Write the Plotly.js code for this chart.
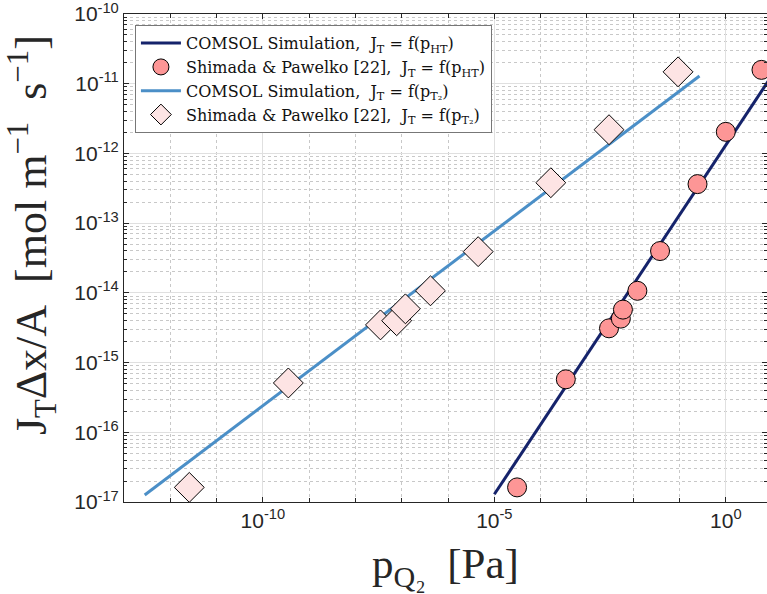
<!DOCTYPE html>
<html>
<head>
<meta charset="utf-8">
<script src="https://cdn.plot.ly/plotly-3.0.1.min.js"></script>
<style>html,body{margin:0;padding:0;background:#fff;}#chart{width:767px;height:594px;}</style>
</head>
<body>
<div id="chart"></div>
<script>
// COMSOL simulation, J_T = f(p_HT)
const simHT_p = [1e-5, 10];
const simHT_J = [1.29e-17, 1.32e-11];
// Shimada & Pawelko [22], J_T = f(p_HT)
const expHT_p = [3.1e-5, 3.5e-4, 3.0e-3, 5.4e-3, 6.0e-3, 1.23e-2, 3.8e-2, 0.245, 1.0, 5.9];
const expHT_J = [1.62e-17, 5.75e-16, 3.1e-15, 4.27e-15, 5.75e-15, 1.07e-14, 3.98e-14, 3.63e-13, 2.04e-12, 1.58e-11];
// COMSOL simulation, J_T = f(p_T2)
const simT2_p = [2.8e-13, 0.27];
const simT2_J = [1.26e-17, 1.29e-11];
// Shimada & Pawelko [22], J_T = f(p_T2)
const expT2_p = [2.57e-12, 3.55e-10, 3.47e-8, 7.76e-8, 1.2e-7, 4.17e-7, 4.47e-6, 1.66e-4, 3.0e-3, 9.3e-2];
const expT2_J = [1.62e-17, 5.1e-16, 3.47e-15, 3.98e-15, 5.9e-15, 1.07e-14, 3.9e-14, 3.8e-13, 2.19e-12, 1.48e-11];

// axis ticks
const xTickVals = [1e-10, 1e-5, 1];
const xTickText = ['10<sup>-10</sup>', '10<sup>-5</sup>', '10<sup>0</sup>'];
const xMinorVals = [1e-13, 1e-12, 1e-11, 1e-10, 1e-9, 1e-8, 1e-7, 1e-6, 1e-5, 1e-4, 1e-3, 1e-2, 1e-1, 1];
const yTickVals = [1e-17, 1e-16, 1e-15, 1e-14, 1e-13, 1e-12, 1e-11, 1e-10];
const yTickText = ['10<sup>-17</sup>', '10<sup>-16</sup>', '10<sup>-15</sup>', '10<sup>-14</sup>',
                   '10<sup>-13</sup>', '10<sup>-12</sup>', '10<sup>-11</sup>', '10<sup>-10</sup>'];

const S = '\u00a0';
const names = [
  'COMSOL Simulation,' + S + S + 'J<sub>T</sub>' + S + '=' + S + 'f(p<sub>HT</sub>)',
  'Shimada &amp; Pawelko [22],' + S + S + 'J<sub>T</sub>' + S + '=' + S + 'f(p<sub>HT</sub>)',
  'COMSOL Simulation,' + S + S + 'J<sub>T</sub>' + S + '=' + S + 'f(p<sub>T₂</sub>)',
  'Shimada &amp; Pawelko [22],' + S + S + 'J<sub>T</sub>' + S + '=' + S + 'f(p<sub>T₂</sub>)'
];

const traces = [
  {x: simHT_p, y: simHT_J, mode: 'lines', name: names[0], line: {color: '#15236b', width: 3}},
  {x: expHT_p, y: expHT_J, mode: 'markers', name: names[1],
   marker: {symbol: 'circle', size: 19, color: '#fd9696', line: {color: '#000', width: 1}}},
  {x: simT2_p, y: simT2_J, mode: 'lines', name: names[2], line: {color: '#4b8fc7', width: 3}},
  {x: expT2_p, y: expT2_J, mode: 'markers', name: names[3],
   marker: {symbol: 'diamond', size: 23, color: '#fde4e4', line: {color: '#000', width: 1}}}
];

const tickFont = {family: 'Liberation Sans, Arial, sans-serif', size: 21, color: '#262626'};
const serif = 'Liberation Serif, Times New Roman, serif';

const axisCommon = {
  type: 'log', showline: true, linecolor: '#262626', linewidth: 1, mirror: 'ticks',
  ticks: 'inside', ticklen: 5, tickcolor: '#262626', zeroline: false,
  showgrid: true, gridcolor: '#e0e0e0', gridwidth: 1,
  tickmode: 'array', ticklabeloverflow: 'allow'
};

const layout = {
  width: 767, height: 594,
  margin: {l: 124, r: 0, t: 14, b: 92},
  paper_bgcolor: '#fff', plot_bgcolor: '#fff',
  showlegend: true,
  legend: {x: 0.017, y: 0.977, xanchor: 'left', yanchor: 'top',
    bgcolor: '#fff', bordercolor: '#777', borderwidth: 1,
    font: {family: 'DejaVu Serif, serif', size: 16, color: '#111'},
    tracegroupgap: 0, itemwidth: 40},
  xaxis: Object.assign({}, axisCommon, {
    range: [-13, 0.89], tickvals: xTickVals, ticktext: xTickText,
    tickfont: tickFont,
    minor: {tickmode: 'array', tickvals: xMinorVals, ticks: 'inside', ticklen: 4, tickcolor: '#262626',
            showgrid: true, gridcolor: '#c8c8c8', griddash: 'dot', gridwidth: 1},
    title: {text: 'p<sub>Q₂</sub>' + S + S + '[Pa]', standoff: 18,
      font: {family: serif, size: 43, color: '#262626'}}
  }),
  yaxis: Object.assign({}, axisCommon, {
    range: [-17, -10], tickvals: yTickVals, ticktext: yTickText,
    tickfont: tickFont,
    minor: {dtick: 'D1', ticks: 'inside', ticklen: 3, tickcolor: '#262626', showgrid: true,
            gridcolor: '#c8c8c8', griddash: 'dot', gridwidth: 1}
  }),
  annotations: [{
    text: 'J<sub>T</sub>Δx/A' + S + S + '[mol' + S + 'm<sup>−1</sup>' + S + S + 's<sup>−1</sup>]',
    xref: 'paper', yref: 'paper', x: -0.143, y: 0.547, xanchor: 'center', yanchor: 'middle',
    textangle: -90, showarrow: false,
    font: {family: serif, size: 44, color: '#262626'}
  }]
};

Plotly.newPlot('chart', traces, layout, {displayModeBar: false, staticPlot: true});
</script>
</body>
</html>
